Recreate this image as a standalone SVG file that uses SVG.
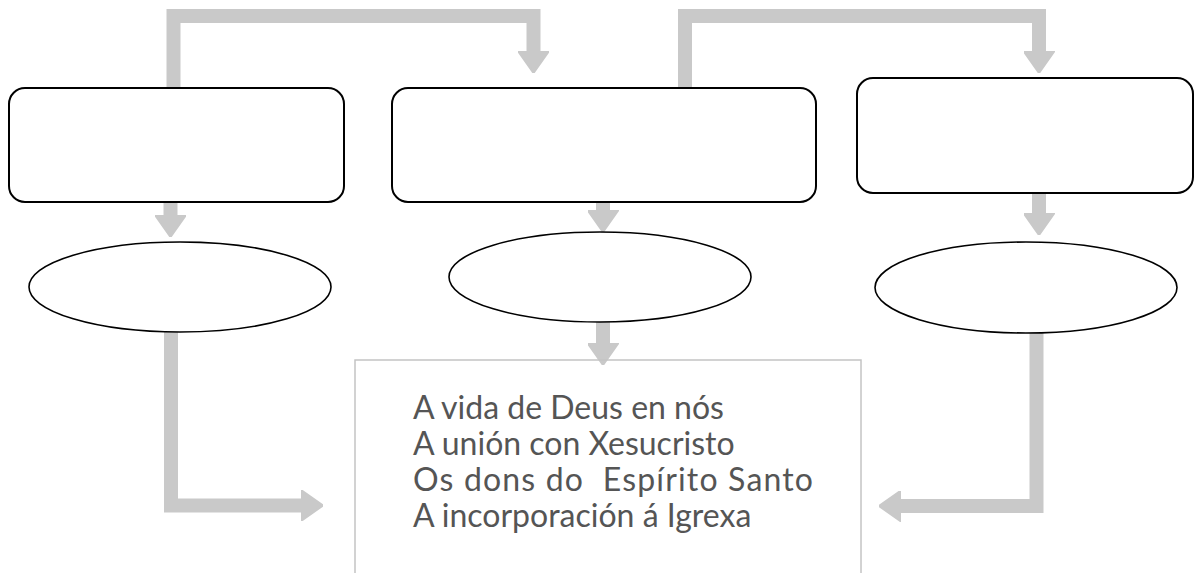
<svg xmlns="http://www.w3.org/2000/svg" width="1195" height="573" viewBox="0 0 1195 573">
<style>
.bar{fill:none;stroke:#c9c9c9;stroke-width:14;stroke-linejoin:miter}
.box{fill:#fff;stroke:#000;stroke-width:2}
.oval{fill:#fff;stroke:#000;stroke-width:1.6}
.list{fill:none;stroke:#c4c4c4;stroke-width:1.5}
.txt{font-family:Lato,"Open Sans","Liberation Sans",sans-serif;font-size:32px;fill:#555}
</style>
<defs>
<marker id="ah" viewBox="0 0 22 31" refX="0" refY="15.5" markerWidth="22" markerHeight="31" markerUnits="userSpaceOnUse" orient="auto">
<path d="M0,0 L22,15.5 L0,31 Z" fill="#c9c9c9" stroke="#c9c9c9" stroke-width="2" stroke-linejoin="round"/>
</marker>
</defs>
<rect width="1195" height="573" fill="#fff"/>
<g id="connectors">
<path class="bar" marker-end="url(#ah)" d="M173.5,88 V16 H533.5 V51"/>
<path class="bar" marker-end="url(#ah)" d="M685,88 V16 H1039 V51"/>
<path class="bar" marker-end="url(#ah)" d="M170.5,202 V215"/>
<path class="bar" marker-end="url(#ah)" d="M603,202 V210"/>
<path class="bar" marker-end="url(#ah)" d="M1039,193 V213"/>
<path class="bar" marker-end="url(#ah)" d="M603,322 V343"/>
<path class="bar" marker-end="url(#ah)" d="M171,332 V505.5 H301"/>
<path class="bar" marker-end="url(#ah)" d="M1036.5,333 V506 H901"/>
</g>
<g id="box1"><rect class="box" x="9" y="88" width="335" height="114" rx="16"/></g>
<g id="box2"><rect class="box" x="392" y="88" width="424" height="114" rx="16"/></g>
<g id="box3"><rect class="box" x="857" y="78" width="336" height="115" rx="16"/></g>
<g id="oval1"><ellipse class="oval" cx="180" cy="287" rx="151" ry="45"/></g>
<g id="oval2"><ellipse class="oval" cx="600" cy="277" rx="151" ry="45"/></g>
<g id="oval3"><ellipse class="oval" cx="1026" cy="287.5" rx="151" ry="45.5"/></g>
<g id="list">
<rect class="list" x="355" y="360" width="506" height="240"/>
<text class="txt" x="413" y="419">A vida de Deus en nós</text>
<text class="txt" x="413" y="455">A unión con Xesucristo</text>
<text class="txt" x="413" y="491" xml:space="preserve" textLength="400" lengthAdjust="spacing">Os dons do  Espírito Santo</text>
<text class="txt" x="413" y="527">A incorporación á Igrexa</text>
</g>
</svg>
